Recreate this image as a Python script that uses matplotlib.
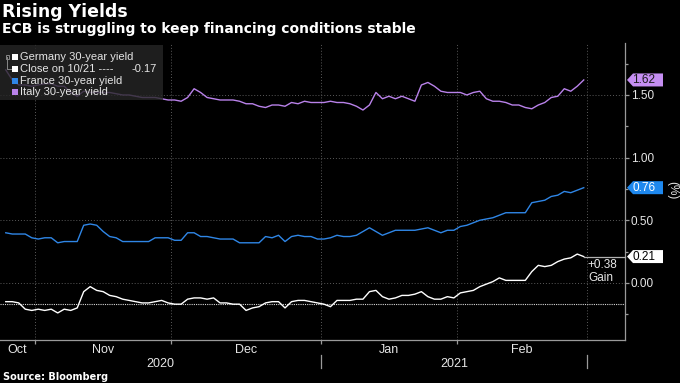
import matplotlib
matplotlib.use('Agg')
import matplotlib.pyplot as plt
import matplotlib.transforms as mtransforms
from matplotlib.patches import Polygon, Rectangle
from matplotlib.lines import Line2D
import numpy as np
import pandas as pd

# ---------------- data ----------------
dates = pd.bdate_range('2020-10-26', '2021-02-26')  # business days

germany = [-0.15, -0.15, -0.16, -0.21, -0.22, -0.21, -0.22, -0.21, -0.24, -0.21,
           -0.22, -0.20, -0.07, -0.03, -0.06, -0.07, -0.10, -0.11, -0.13, -0.14,
           -0.15, -0.16, -0.16, -0.15, -0.14, -0.16, -0.17, -0.17, -0.13, -0.12,
           -0.12, -0.13, -0.12, -0.16, -0.16, -0.17, -0.17, -0.22, -0.20, -0.19,
           -0.16, -0.15, -0.15, -0.20, -0.15, -0.14, -0.14, -0.15, -0.16, -0.17,
           -0.19, -0.14, -0.14, -0.14, -0.13, -0.13, -0.07, -0.06, -0.11, -0.13,
           -0.12, -0.10, -0.10, -0.09, -0.07, -0.11, -0.13, -0.13, -0.11, -0.12,
           -0.08, -0.07, -0.06, -0.03, -0.01, 0.01, 0.04, 0.02, 0.02, 0.02,
           0.02, 0.09, 0.14, 0.13, 0.14, 0.17, 0.19, 0.20, 0.23, 0.21]

france = [0.40, 0.39, 0.39, 0.39, 0.36, 0.35, 0.36, 0.36, 0.32, 0.33,
          0.33, 0.33, 0.46, 0.47, 0.46, 0.41, 0.37, 0.36, 0.33, 0.33,
          0.33, 0.33, 0.33, 0.36, 0.36, 0.36, 0.34, 0.34, 0.40, 0.40,
          0.37, 0.37, 0.36, 0.35, 0.35, 0.35, 0.32, 0.32, 0.32, 0.32,
          0.37, 0.36, 0.38, 0.33, 0.37, 0.38, 0.37, 0.37, 0.35, 0.35,
          0.36, 0.38, 0.37, 0.37, 0.38, 0.41, 0.44, 0.41, 0.38, 0.40,
          0.42, 0.42, 0.42, 0.42, 0.43, 0.44, 0.42, 0.40, 0.42, 0.42,
          0.45, 0.46, 0.48, 0.50, 0.51, 0.52, 0.54, 0.56, 0.56, 0.56,
          0.56, 0.64, 0.65, 0.66, 0.69, 0.70, 0.73, 0.72, 0.74, 0.76]

italy = [1.70, 1.62, 1.58, 1.58, 1.57, 1.58, 1.59, 1.59, 1.57, 1.57,
         1.52, 1.49, 1.53, 1.52, 1.52, 1.52, 1.52, 1.51, 1.50, 1.50,
         1.49, 1.48, 1.48, 1.48, 1.47, 1.46, 1.46, 1.45, 1.48, 1.55,
         1.52, 1.48, 1.47, 1.46, 1.46, 1.46, 1.45, 1.43, 1.43, 1.41,
         1.40, 1.42, 1.42, 1.41, 1.44, 1.43, 1.45, 1.44, 1.44, 1.44,
         1.45, 1.44, 1.44, 1.43, 1.41, 1.38, 1.42, 1.52, 1.47, 1.49,
         1.47, 1.49, 1.47, 1.45, 1.58, 1.60, 1.57, 1.53, 1.52, 1.52,
         1.52, 1.50, 1.52, 1.53, 1.47, 1.45, 1.45, 1.44, 1.42, 1.42,
         1.40, 1.39, 1.42, 1.44, 1.48, 1.49, 1.55, 1.53, 1.57, 1.62]

close_1021 = -0.17
month_labels = ['Oct', 'Nov', 'Dec', 'Jan', 'Feb']
year_labels = ['2020', '2021']
y_ticks = [0.0, 0.5, 1.0, 1.5]
y_minor = [-0.25, 0.25, 0.75, 1.25, 1.75]

legend_labels = ['Germany 30-year yield', 'Close on 10/21 ----', 'France 30-year yield',
                 'Italy 30-year yield']

# ---------------- style ----------------
C_GER = '#ffffff'
C_FRA = '#2f86e6'
C_ITA = '#b982ea'
C_TAG_ITA = '#c58ef2'
C_TAG_FRA = '#1e88ee'
C_TXT = '#e6e6e6'
C_AX = '#9a9a9a'
C_GRID = '#5a5a5a'
SANS = ['Liberation Sans', 'DejaVu Sans']

W, H = 680, 383
fig = plt.figure(figsize=(W / 100, H / 100), dpi=100, facecolor='black')
ax = fig.add_axes([0 / W, 43 / H, 625 / W, 297 / H])
ax.set_facecolor('black')

def fx(px):
    return px / W

def fy(py):
    return 1 - py / H

x = np.arange(len(dates))
n = len(dates)
# month boundaries (between last day of a month and first of next)
bounds = [i - 0.5 for i in range(1, n) if dates[i].month != dates[i - 1].month] + [n - 0.5]
scale = (587 - 35) / (bounds[-1] - bounds[0])
xl = bounds[0] - 35 / scale
xr = bounds[-1] + (625 - 587) / scale
ax.set_xlim(xl, xr)
ax.set_ylim(-0.456, 1.915)

# grid
for yt in y_ticks:
    ax.axhline(yt, color=C_GRID, lw=0.7, ls=(0, (1, 2)), zorder=1)
for b in bounds:
    ax.axvline(b, color=C_GRID, lw=0.7, ls=(0, (1, 2)), zorder=1)
ax.axhline(close_1021, color='#d8d8d8', lw=0.8, ls=(0, (1, 1)), zorder=2)

# lines
ax.plot(x, italy, color=C_ITA, lw=1.0, zorder=3)
ax.plot(x, france, color=C_FRA, lw=1.0, zorder=3)
ax.plot(x, germany, color=C_GER, lw=1.0, zorder=4)

# gain line + text
ax.plot([x[-1], xr], [germany[-1], germany[-1]], color='#b0b0b0', lw=0.9,
        clip_on=False, zorder=4)
gain = germany[-1] - close_1021
ax.annotate(f'{gain:+.2f}\nGain', xy=(x[-1], germany[-1]), xytext=(3, -2),
            textcoords='offset points', ha='left', va='top', color=C_TXT,
            fontsize=8.5, family=SANS, linespacing=1.1)

# spines
for s in ['top', 'left']:
    ax.spines[s].set_visible(False)
for s in ['right', 'bottom']:
    ax.spines[s].set_color(C_AX)
    ax.spines[s].set_linewidth(0.9)

# y axis on right
ax.yaxis.tick_right()
ax.set_yticks(y_ticks)
ax.set_yticklabels([f'{v:.2f}' for v in y_ticks])
ax.set_yticks(y_minor, minor=True)
ax.tick_params(axis='y', which='major', colors=C_AX, length=3, width=0.9, pad=1,
               labelcolor=C_TXT, labelsize=8.5)
ax.tick_params(axis='y', which='minor', colors=C_AX, length=2, width=0.9)
for lab in ax.get_yticklabels():
    lab.set_family(SANS)

# x axis
ax.set_xticks(bounds[:-1])
ax.set_xticklabels([])
ax.tick_params(axis='x', colors=C_AX, length=3, width=0.9)

blend_xa = mtransforms.blended_transform_factory(ax.transData, ax.transAxes)
edges = [xl] + bounds
for i, m in enumerate(month_labels):
    ax.text((edges[i] + edges[i + 1]) / 2, -13 / 297, m, transform=blend_xa,
            ha='center', va='baseline', color=C_TXT, fontsize=9, family=SANS)
jan_b = bounds[2]  # boundary Dec/Jan
year_edges = [xl, jan_b, bounds[-1]]
for i, yl in enumerate(year_labels):
    ax.text((year_edges[i] + year_edges[i + 1]) / 2, -27 / 297, yl, transform=blend_xa,
            ha='center', va='baseline', color=C_TXT, fontsize=9, family=SANS)
for b in [jan_b, bounds[-1]]:
    ax.add_line(Line2D([b, b], [-15 / 297, -28 / 297], transform=blend_xa,
                       color=C_AX, lw=0.9, clip_on=False))

# (%) label
fig.text(fx(672), fy(190), '(%)', rotation=270, ha='center', va='center',
         color=C_TXT, fontsize=8.5, family=SANS)

# value tags
blend_ad = mtransforms.blended_transform_factory(ax.transAxes, ax.transData)

def tag(val, face, tcolor):
    tr = mtransforms.ScaledTranslation(1, val, blend_ad)
    verts = [(2, 0), (8, 6.5), (38, 6.5), (38, -6.5), (8, -6.5)]
    p = Polygon(verts, closed=True, transform=tr, facecolor=face, edgecolor='none',
                zorder=5, clip_on=False)
    ax.add_artist(p)
    ax.annotate(f'{val:.2f}', xy=(1, val), xycoords=blend_ad, xytext=(19 * 0.72, 0),
                textcoords='offset points', ha='center', va='center', color=tcolor,
                fontsize=8.5, family=SANS, zorder=6, annotation_clip=False)

tag(italy[-1], C_TAG_ITA, '#1a1a1a')
tag(france[-1], C_TAG_FRA, '#ffffff')
tag(germany[-1], '#ffffff', '#000000')

# legend (custom)
fig.patches.append(Rectangle((fx(0), fy(100)), fx(163), 55 / H, transform=fig.transFigure,
                             facecolor='#262626', alpha=0.8, edgecolor='none', zorder=2))
rows = [57, 69, 81, 92]
cols = [C_GER, C_GER, C_FRA, C_ITA]
for r, c, lab in zip(rows, cols, legend_labels):
    fig.patches.append(Rectangle((fx(12), fy(r + 3)), 6 / W, 6 / H, transform=fig.transFigure,
                                 facecolor=c, edgecolor='none', zorder=3))
    fig.text(fx(20.5), fy(r), lab, ha='left', va='center', color=C_TXT, fontsize=8,
             family=SANS, zorder=4)
fig.text(fx(157), fy(69), f'{close_1021:.2f}', ha='right', va='center', color=C_TXT,
         fontsize=8, family=SANS, zorder=4)
fig.lines.append(Line2D([fx(7), fx(7), fx(11)], [fy(57), fy(69), fy(69)],
                        transform=fig.transFigure, color='#888888', lw=0.7, zorder=3))
fig.patches.append(Rectangle((fx(5.5), fy(58.5)), 3 / W, 3 / H, transform=fig.transFigure,
                             facecolor='none', edgecolor='#888888', lw=0.7, zorder=3))

# titles
fig.text(fx(2), fy(17), 'Rising Yields', ha='left', va='baseline', color='white',
         fontsize=12.5, weight='bold', family=['DejaVu Sans'])
fig.text(fx(2), fy(33), 'ECB is struggling to keep financing conditions stable', ha='left',
         va='baseline', color='white', fontsize=10, weight='bold', family=['DejaVu Sans'])
fig.text(fx(3), fy(380), 'Source: Bloomberg', ha='left', va='baseline', color='white',
         fontsize=7, weight='bold', family=['DejaVu Sans'])

fig.savefig('out.png', dpi=100, facecolor='black')
